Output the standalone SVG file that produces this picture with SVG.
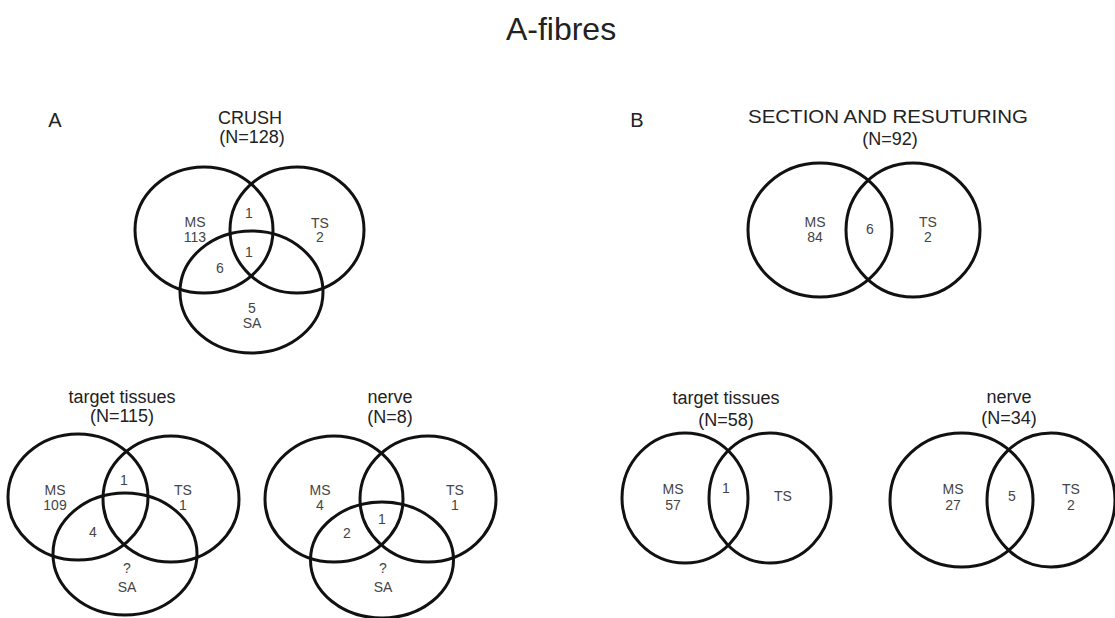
<svg xmlns="http://www.w3.org/2000/svg" width="1115" height="618" viewBox="0 0 1115 618">
<style>
.c{fill:none;stroke:#111;stroke-width:3}
.t{font-family:"Liberation Sans",Arial,sans-serif;text-anchor:middle;fill:#222}
.h{font-size:18px}
.l{font-size:14px;fill:#444}
.p{font-size:20px;fill:#222;font-family:"Liberation Sans",Arial,sans-serif;text-anchor:middle}
</style>
<rect width="1115" height="618" fill="#fff"/>
<text class="t" x="561" y="40" style="font-size:32px">A-fibres</text>
<text class="p" x="55" y="127">A</text>
<text class="p" x="637" y="127">B</text>

<g id="crush">
<ellipse class="c" cx="204" cy="230" rx="69" ry="63"/>
<ellipse class="c" cx="297" cy="230" rx="67" ry="63"/>
<ellipse class="c" cx="251.5" cy="292" rx="71.5" ry="61"/>
<text class="t h" x="250" y="124">CRUSH</text>
<text class="t h" x="252" y="143">(N=128)</text>
<text class="t l" x="195" y="227">MS</text>
<text class="t l" x="195" y="242">113</text>
<text class="t l" x="249" y="218">1</text>
<text class="t l" x="249" y="257">1</text>
<text class="t l" x="320" y="228">TS</text>
<text class="t l" x="320" y="242">2</text>
<text class="t l" x="220" y="273">6</text>
<text class="t l" x="252" y="313">5</text>
<text class="t l" x="252" y="328">SA</text>
</g>

<g id="a-target">
<ellipse class="c" cx="78" cy="497" rx="70" ry="63"/>
<ellipse class="c" cx="171" cy="499" rx="68" ry="63"/>
<ellipse class="c" cx="125" cy="554" rx="72" ry="61"/>
<text class="t h" x="122" y="403">target tissues</text>
<text class="t h" x="122" y="422">(N=115)</text>
<text class="t l" x="55" y="495">MS</text>
<text class="t l" x="55" y="510">109</text>
<text class="t l" x="124" y="485">1</text>
<text class="t l" x="183" y="495">TS</text>
<text class="t l" x="183" y="510">1</text>
<text class="t l" x="93" y="537">4</text>
<text class="t l" x="127" y="573">?</text>
<text class="t l" x="127" y="592">SA</text>
</g>

<g id="a-nerve">
<ellipse class="c" cx="334" cy="499" rx="69" ry="63"/>
<ellipse class="c" cx="428" cy="499" rx="68" ry="63"/>
<ellipse class="c" cx="382" cy="560" rx="71.5" ry="58"/>
<text class="t h" x="390" y="403">nerve</text>
<text class="t h" x="390" y="423">(N=8)</text>
<text class="t l" x="320" y="495">MS</text>
<text class="t l" x="320" y="510">4</text>
<text class="t l" x="455" y="495">TS</text>
<text class="t l" x="455" y="510">1</text>
<text class="t l" x="347" y="538">2</text>
<text class="t l" x="382" y="524">1</text>
<text class="t l" x="383" y="573">?</text>
<text class="t l" x="383" y="592">SA</text>
</g>

<g id="section">
<ellipse class="c" cx="820" cy="230" rx="72" ry="67"/>
<ellipse class="c" cx="913" cy="230" rx="67" ry="67"/>
<text class="t h" x="888" y="123" textLength="280" lengthAdjust="spacingAndGlyphs">SECTION AND RESUTURING</text>
<text class="t h" x="890" y="145">(N=92)</text>
<text class="t l" x="815" y="227">MS</text>
<text class="t l" x="815" y="242">84</text>
<text class="t l" x="870" y="234">6</text>
<text class="t l" x="928" y="227">TS</text>
<text class="t l" x="928" y="242">2</text>
</g>

<g id="b-target">
<ellipse class="c" cx="685" cy="498" rx="63" ry="65"/>
<ellipse class="c" cx="770" cy="498" rx="61" ry="65"/>
<text class="t h" x="726" y="404">target tissues</text>
<text class="t h" x="726" y="426">(N=58)</text>
<text class="t l" x="673" y="494">MS</text>
<text class="t l" x="673" y="510">57</text>
<text class="t l" x="726" y="493">1</text>
<text class="t l" x="783" y="501">TS</text>
</g>

<g id="b-nerve">
<ellipse class="c" cx="961.5" cy="500" rx="71.5" ry="67"/>
<ellipse class="c" cx="1051" cy="500" rx="64" ry="67"/>
<text class="t h" x="1009" y="403">nerve</text>
<text class="t h" x="1009" y="424">(N=34)</text>
<text class="t l" x="953" y="494">MS</text>
<text class="t l" x="953" y="510">27</text>
<text class="t l" x="1012" y="501">5</text>
<text class="t l" x="1071" y="494">TS</text>
<text class="t l" x="1071" y="510">2</text>
</g>

<g id="connectors"></g>
</svg>
